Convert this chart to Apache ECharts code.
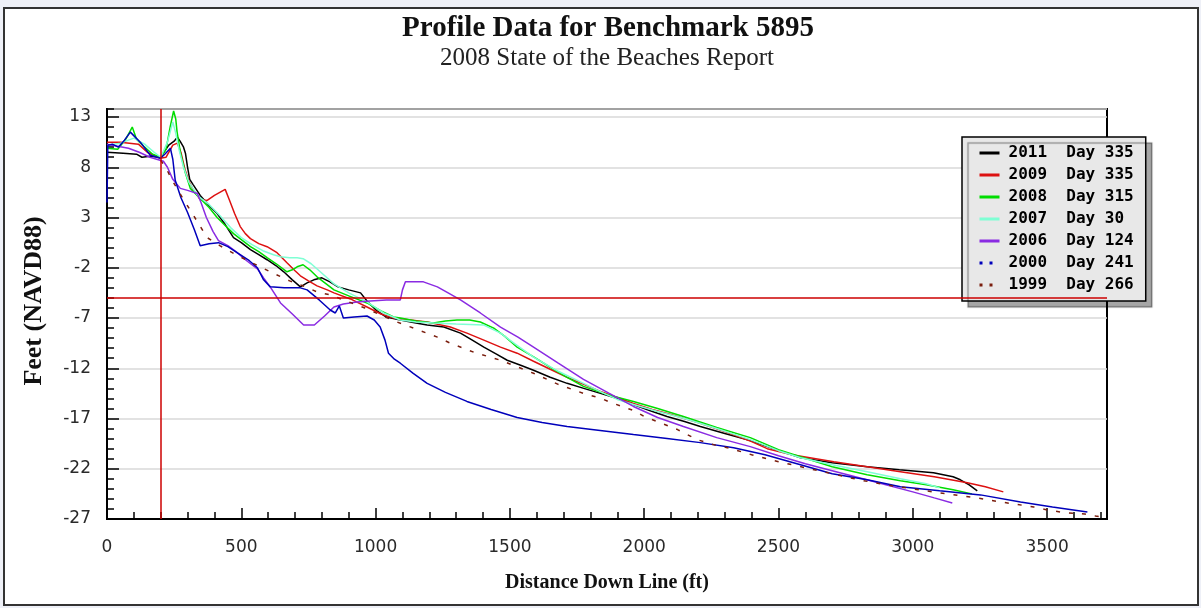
<!DOCTYPE html>
<html><head><meta charset="utf-8">
<script src="https://cdn.jsdelivr.net/npm/echarts@6/dist/echarts.min.js"></script>
<style>html,body{margin:0;padding:0;background:#eef0f7;} #c{width:1201px;height:608px;}</style>
</head><body><div id="c"></div>
<script>
// ---- legend / series meta ----
const years = ['2011', '2009', '2008', '2007', '2006', '2000', '1999'];
const days = ['335', '335', '315', '30', '124', '241', '266'];
const colors = ['#000000', '#dd1111', '#00dd00', '#7fffd4', '#8a2be2', '#0000bb', '#7b1e0e'];

// ---- axis ticks ----
const xTickLabels = [0, 500, 1000, 1500, 2000, 2500, 3000, 3500];
const yTickLabels = [13, 8, 3, -2, -7, -12, -17, -22, -27];

// ---- reference lines ----
const refX = 200;
const refY = -5;

// ---- profile data [distance ft, elevation ft] ----
const s2011 = [[0,9.5],[60,9.4],[110,9.3],[130,9.0],[160,9.1],[200,9.0],[215,9.6],[230,10.2],[250,10.6],[262,11.0],[272,10.6],[285,10.0],[292,9.4],[300,8.0],[308,6.8],[320,6.3],[347,5.2],[380,4.2],[410,3.4],[440,2.3],[471,1.0],[500,0.5],[534,-0.2],[565,-0.7],[596,-1.2],[630,-1.8],[658,-2.4],[690,-3.2],[720,-3.9],[745,-3.5],[770,-3.2],[800,-3.0],[830,-3.4],[860,-3.9],[900,-4.2],[944,-4.5],[968,-5.3],[1005,-6.3],[1040,-6.9],[1092,-7.2],[1150,-7.5],[1192,-7.7],[1254,-7.9],[1316,-8.5],[1360,-9.2],[1403,-9.9],[1450,-10.6],[1490,-11.2],[1540,-11.7],[1588,-12.2],[1650,-12.9],[1713,-13.5],[1775,-14.0],[1837,-14.5],[1900,-15.0],[1960,-15.6],[2020,-16.2],[2085,-16.8],[2150,-17.3],[2209,-17.8],[2300,-18.5],[2395,-19.2],[2480,-20.0],[2582,-20.9],[2700,-21.4],[2830,-21.8],[2950,-22.1],[3077,-22.4],[3150,-22.8],[3177,-23.1],[3210,-23.6],[3240,-24.2]];
const s2009 = [[0,10.5],[50,10.5],[117,10.3],[150,9.5],[198,8.9],[220,9.0],[245,10.2],[262,10.4],[275,9.5],[290,7.8],[305,6.6],[320,5.8],[347,4.8],[373,4.7],[400,5.2],[420,5.5],[440,5.8],[455,4.8],[475,3.4],[496,2.1],[515,1.4],[534,0.9],[565,0.4],[596,0.1],[633,-0.5],[670,-1.5],[700,-2.3],[720,-2.8],[750,-3.3],[782,-3.8],[820,-4.2],[845,-4.5],[906,-5.1],[968,-5.9],[1020,-6.6],[1067,-7.0],[1130,-7.2],[1192,-7.4],[1278,-7.9],[1340,-8.5],[1403,-9.2],[1465,-9.9],[1527,-10.5],[1588,-11.3],[1650,-12.1],[1713,-12.9],[1775,-13.6],[1837,-14.3],[1900,-14.9],[1960,-15.5],[2030,-16.1],[2100,-16.6],[2200,-17.4],[2300,-18.3],[2400,-19.3],[2458,-20.0],[2550,-20.6],[2706,-21.3],[2830,-21.8],[2954,-22.3],[3080,-22.8],[3203,-23.4],[3270,-23.8],[3337,-24.3]];
const s2008 = [[0,9.9],[40,9.8],[70,10.8],[94,12.0],[110,10.8],[140,10.0],[170,9.3],[200,9.0],[220,9.8],[235,12.0],[248,13.6],[256,12.8],[261,11.5],[273,9.5],[291,7.5],[310,5.9],[347,4.9],[380,4.0],[410,3.0],[440,2.2],[471,1.4],[500,0.8],[534,0.1],[565,-0.4],[596,-1.0],[630,-1.6],[670,-2.4],[690,-2.2],[708,-1.9],[730,-1.7],[755,-2.2],[782,-2.9],[845,-4.2],[900,-4.8],[968,-5.5],[1020,-6.3],[1067,-6.9],[1092,-7.0],[1150,-7.3],[1216,-7.5],[1260,-7.3],[1303,-7.2],[1350,-7.2],[1390,-7.4],[1440,-8.0],[1480,-8.8],[1527,-9.9],[1590,-10.9],[1650,-11.9],[1713,-12.9],[1774,-13.8],[1860,-14.6],[1960,-15.3],[2050,-16.0],[2146,-16.8],[2270,-17.9],[2395,-18.9],[2500,-20.1],[2582,-20.8],[2700,-21.8],[2830,-22.6],[2954,-23.2],[3050,-23.6],[3150,-24.1],[3220,-24.5]];
const s2007 = [[0,10.2],[50,10.4],[100,10.9],[140,10.3],[180,9.4],[200,9.0],[225,10.5],[245,12.5],[255,11.5],[268,9.8],[285,8.0],[305,6.5],[340,5.1],[380,4.3],[420,3.2],[460,2.0],[500,1.0],[540,0.3],[580,-0.3],[620,-0.7],[646,-0.9],[680,-1.0],[708,-1.0],[730,-1.1],[760,-1.6],[794,-2.4],[845,-3.6],[900,-4.5],[968,-5.4],[1030,-6.5],[1092,-7.2],[1150,-7.4],[1216,-7.5],[1300,-7.6],[1403,-7.7],[1465,-8.5],[1520,-9.6],[1588,-10.9],[1680,-12.3],[1774,-13.5],[1850,-14.5],[1900,-15.1],[1960,-15.6],[2050,-16.3],[2150,-17.0],[2270,-18.0],[2395,-19.1],[2500,-20.2],[2582,-20.9],[2700,-21.6],[2830,-22.3],[2954,-23.0],[3050,-23.5],[3100,-23.9]];
const s2006 = [[0,10.3],[40,10.1],[80,9.9],[120,9.5],[160,9.0],[210,8.6],[225,8.0],[245,6.8],[273,5.9],[300,5.7],[336,5.4],[350,4.5],[370,3.0],[395,1.6],[415,0.7],[450,0.2],[480,-0.4],[520,-1.3],[560,-2.1],[583,-3.0],[610,-4.0],[646,-5.5],[690,-6.6],[732,-7.7],[772,-7.7],[810,-6.8],[845,-5.9],[880,-5.6],[930,-5.4],[980,-5.3],[1040,-5.2],[1092,-5.2],[1100,-4.2],[1111,-3.4],[1178,-3.4],[1230,-3.9],[1270,-4.5],[1316,-5.2],[1390,-6.5],[1465,-7.9],[1530,-8.9],[1588,-9.9],[1680,-11.5],[1774,-13.1],[1870,-14.5],[1960,-15.8],[2050,-16.9],[2146,-17.8],[2270,-18.9],[2395,-19.8],[2500,-20.7],[2600,-21.5],[2700,-22.2],[2800,-22.9],[2900,-23.6],[3000,-24.3],[3080,-24.9],[3147,-25.4]];
const s2000 = [[0,4.5],[3,10.2],[20,10.3],[42,10.0],[65,10.7],[87,11.5],[105,11.0],[124,10.5],[161,9.2],[199,8.9],[215,9.3],[236,9.9],[245,8.8],[254,6.7],[275,5.0],[300,3.5],[325,1.8],[347,0.2],[380,0.4],[415,0.5],[450,0.1],[490,-0.6],[530,-1.3],[560,-2.0],[583,-3.2],[608,-3.9],[660,-4.0],[720,-4.0],[745,-4.2],[790,-5.2],[831,-6.2],[850,-6.5],[865,-5.8],[880,-7.0],[920,-6.9],[968,-6.8],[995,-7.2],[1017,-7.9],[1035,-9.2],[1048,-10.5],[1070,-11.1],[1092,-11.5],[1140,-12.5],[1192,-13.5],[1260,-14.4],[1340,-15.3],[1430,-16.1],[1527,-16.9],[1620,-17.4],[1713,-17.8],[1836,-18.2],[1960,-18.6],[2085,-19.0],[2209,-19.4],[2333,-19.9],[2450,-20.6],[2582,-21.6],[2700,-22.5],[2830,-23.1],[2954,-23.8],[3100,-24.2],[3252,-24.6],[3401,-25.3],[3520,-25.8],[3650,-26.3]];
const s1999 = [[200,8.7],[224,7.7],[243,6.7],[280,5.0],[320,3.3],[373,1.0],[420,0.2],[480,-0.7],[540,-1.5],[608,-2.4],[680,-3.3],[740,-3.9],[782,-4.4],[831,-4.7],[900,-5.4],[960,-6.0],[1020,-6.7],[1080,-7.4],[1141,-8.0],[1230,-8.9],[1278,-9.5],[1365,-10.4],[1465,-11.2],[1588,-12.5],[1680,-13.6],[1774,-14.5],[1840,-15.0],[1875,-15.4],[1960,-16.2],[2000,-16.8],[2124,-18.1],[2197,-19.1],[2258,-19.6],[2309,-19.9],[2400,-20.6],[2500,-21.3],[2600,-21.9],[2700,-22.5],[2800,-23.1],[2900,-23.6],[3000,-24.0],[3100,-24.4],[3240,-24.9],[3326,-25.3],[3450,-25.8],[3500,-26.1],[3575,-26.4],[3640,-26.5],[3680,-26.7],[3725,-26.9]];

const seriesData = [s2011, s2009, s2008, s2007, s2006, s2000, s1999];
const dashed = [false, false, false, false, false, false, true];
const legendDotted = [false, false, false, false, false, true, true];

const names = years.map((y, i) => y + '  Day ' + days[i]);
const serif = 'Liberation Serif, Times New Roman, serif';
const tickFont = {fontFamily: 'DejaVu Sans, Verdana, sans-serif', fontSize: 17, color: '#2a2a2a'};

const series = seriesData.map((d, i) => ({
  name: names[i], type: 'line', data: d, symbol: 'none', showSymbol: false,
  xAxisIndex: 0, yAxisIndex: 0,
  lineStyle: {color: colors[i], width: 1.5, type: dashed[i] ? [4, 9] : 'solid'},
  itemStyle: {color: colors[i]}, animation: false
}));
series.unshift({
  name: 'ref', type: 'line', data: [], xAxisIndex: 0, yAxisIndex: 0, animation: false,
  markLine: {silent: true, symbol: ['none', 'none'], animation: false,
    label: {show: false}, lineStyle: {color: '#cc0000', width: 1.5, type: 'solid'},
    data: [{xAxis: refX}, {yAxis: refY}]}
});

const X_MIN = 0, X_MAX = 3723, Y_MIN = -27, Y_MAX = 13.8;

const option = {
  backgroundColor: 'transparent',
  animation: false,
  graphic: [
    {type: 'rect', z: -10, shape: {x: 4, y: 8, width: 1194, height: 597},
     style: {fill: '#ffffff', stroke: '#333333', lineWidth: 2}},
    {type: 'text', x: 608, y: 29, style: {text: 'Profile Data for Benchmark 5895',
      font: 'bold 29px ' + serif, fill: '#111', align: 'center', verticalAlign: 'middle', textAlign: 'center', textVerticalAlign: 'middle'}},
    {type: 'text', x: 607, y: 58, style: {text: '2008 State of the Beaches Report',
      font: '25px ' + serif, fill: '#222', align: 'center', verticalAlign: 'middle', textAlign: 'center', textVerticalAlign: 'middle'}}
  ],
  grid: {left: 107, right: 94, top: 109, bottom: 89, show: true, borderColor: '#000', borderWidth: 2,
         backgroundColor: '#fff', containLabel: false, outerBoundsMode: 'none'},
  legend: {
    orient: 'vertical', left: 962, top: 137, padding: [8, 12, 8, 16], itemGap: 6,
    itemWidth: 20, itemHeight: 10, backgroundColor: '#e8e8e8', borderColor: '#000', borderWidth: 1.5,
    shadowColor: 'rgba(0,0,0,0.35)', shadowOffsetX: 6, shadowOffsetY: 6, shadowBlur: 1,
    textStyle: {fontFamily: 'DejaVu Sans Mono, monospace', fontSize: 16, fontWeight: 'bold', color: '#000', padding: [0, 0, 0, 4]},
    lineStyle: {width: 3},
    itemStyle: {opacity: 0},
    selectedMode: false,
    data: names.map((n, i) => legendDotted[i]
      ? {name: n, lineStyle: {type: [3, 7], width: 3}, itemStyle: {opacity: 0}}
      : {name: n, itemStyle: {opacity: 0}})
  },
  xAxis: [
    {type: 'value', min: X_MIN, max: X_MAX, interval: 500, position: 'bottom',
     name: 'Distance Down Line (ft)', nameLocation: 'middle', nameGap: 54,
     nameTextStyle: {fontFamily: serif, fontWeight: 'bold', fontSize: 20, color: '#111'},
     axisLine: {onZero: false, lineStyle: {color: '#000', width: 2}},
     axisTick: {inside: true, length: 11, lineStyle: {color: '#000', width: 1.5}},
     axisLabel: {showMaxLabel: false, margin: 20, ...tickFont,
       formatter: v => xTickLabels.includes(v) ? String(v) : ''},
     splitLine: {show: false}},
    {type: 'value', min: X_MIN, max: X_MAX, interval: 100, position: 'bottom',
     axisLine: {show: false, onZero: false},
     axisTick: {inside: true, length: 7, lineStyle: {color: '#000', width: 1.5}},
     axisLabel: {show: false}, splitLine: {show: false}}
  ],
  yAxis: [
    {type: 'value', min: Y_MIN, max: Y_MAX, interval: 5, position: 'left',
     name: 'Feet (NAVD88)', nameLocation: 'middle', nameGap: 60,
     nameTextStyle: {fontFamily: serif, fontWeight: 'bold', fontSize: 26, color: '#111', padding: [0, 0, 0, 26]},
     axisLine: {onZero: false, lineStyle: {color: '#000', width: 2}},
     axisTick: {inside: true, length: 12, lineStyle: {color: '#000', width: 1.5}},
     axisLabel: {showMaxLabel: false, margin: 16, ...tickFont,
       formatter: v => yTickLabels.includes(v) ? String(v) : ''},
     splitLine: {show: true, lineStyle: {color: '#d9d9d9', width: 1.5}}},
    {type: 'value', min: Y_MIN, max: Y_MAX, interval: 1, position: 'left',
     axisLine: {show: false, onZero: false},
     axisTick: {inside: true, length: 7, lineStyle: {color: '#000', width: 1.5}},
     axisLabel: {show: false}, splitLine: {show: false}}
  ],
  series: series
};

const chart = echarts.init(document.getElementById('c'), null, {renderer: 'canvas'});
chart.setOption(option);
</script>
</body></html>
